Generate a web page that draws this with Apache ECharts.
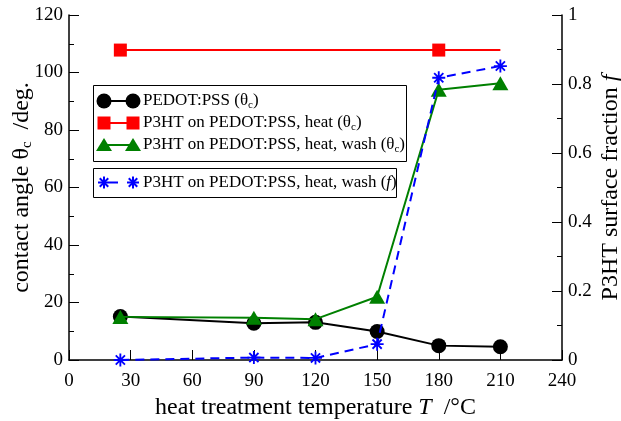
<!DOCTYPE html>
<html><head><meta charset="utf-8">
<script src="https://cdn.jsdelivr.net/npm/echarts@6/dist/echarts.min.js"></script>
<style>html,body{margin:0;padding:0;background:#fff}#c{width:621px;height:421px}</style>
</head><body><div id="c"></div>
<script>
const xTicks = [0, 30, 60, 90, 120, 150, 180, 210, 240];
const temps = [25, 90, 120, 150, 180, 210];
const pedotAngle = [15.1, 12.8, 13.1, 9.9, 5.0, 4.6];
const heatTemps = [25, 180, 210];
const heatAngle = [107.8, 107.8, 107.8];
const heatMarkerShown = [true, true, false];
const washAngle = [15.0, 14.7, 14.2, 22.0, 94.0, 96.3];
const washFraction = [0.0, 0.007, 0.006, 0.046, 0.818, 0.852];
const legendNames = [
  'PEDOT:PSS ({g|θ}{sub|c})',
  'P3HT on PEDOT:PSS, heat ({g|θ}{sub|c})',
  'P3HT on PEDOT:PSS, heat, wash ({g|θ}{sub|c})',
  'P3HT on PEDOT:PSS, heat, wash ({i|f})'
];

const FONT = '"Liberation Serif", "DejaVu Serif", serif';
const starPath = 'path://M-1,-7L1,-7L1,7L-1,7Z M-7,-1L7,-1L7,1L-7,1Z M-5.66,-4.24L-4.24,-5.66L5.66,4.24L4.24,5.66Z M4.24,-5.66L5.66,-4.24L-4.24,5.66L-5.66,4.24Z';

const chart = echarts.init(document.getElementById('c'), null, {renderer: 'canvas'});
const TF = 24;
const axisCommon = {
  axisLine: {show: true, onZero: false, lineStyle: {color: '#000', width: 1.5}},
  axisTick: {show: true, inside: true, length: 10, lineStyle: {color: '#000', width: 1}},
  splitLine: {show: false},
  axisLabel: {color: '#000', fontFamily: FONT, fontSize: 19},
  nameTextStyle: {color: '#000', fontFamily: FONT, fontSize: TF},
  nameMoveOverlap: false
};
const rich = {
  sub: {fontFamily: FONT, fontSize: 15, color: '#000', padding: [12, 0, 0, 0]},
  i: {fontFamily: FONT, fontSize: TF, fontStyle: 'italic', color: '#000'},
  g: {fontFamily: FONT, fontSize: TF, color: '#000'}
};

function starLines(cx, cy, r, color) {
  const out = [];
  for (let k = 0; k < 4; k++) {
    const a = k * Math.PI / 4;
    out.push({type: 'line', shape: {x1: cx - r * Math.cos(a), y1: cy - r * Math.sin(a), x2: cx + r * Math.cos(a), y2: cy + r * Math.sin(a)}, style: {stroke: color, lineWidth: 2}});
  }
  return out;
}

function legendRow(y, i, kind) {
  let els = [];
  const x1 = 104, x2 = 133;
  if (kind === 'circle') {
    els.push({type: 'line', shape: {x1, y1: y, x2, y2: y}, style: {stroke: '#000', lineWidth: 2}});
    els.push({type: 'circle', shape: {cx: x1, cy: y, r: 7.5}, style: {fill: '#000'}});
    els.push({type: 'circle', shape: {cx: x2, cy: y, r: 7.5}, style: {fill: '#000'}});
  } else if (kind === 'square') {
    els.push({type: 'line', shape: {x1, y1: y, x2, y2: y}, style: {stroke: '#f00', lineWidth: 2}});
    els.push({type: 'rect', shape: {x: x1 - 6.5, y: y - 6.5, width: 13, height: 13}, style: {fill: '#f00'}});
    els.push({type: 'rect', shape: {x: x2 - 6.5, y: y - 6.5, width: 13, height: 13}, style: {fill: '#f00'}});
  } else if (kind === 'tri') {
    els.push({type: 'line', shape: {x1, y1: y, x2, y2: y}, style: {stroke: '#008000', lineWidth: 2}});
    [x1, x2].forEach(cx => els.push({type: 'polygon', shape: {points: [[cx, y - 7], [cx + 8, y + 6], [cx - 8, y + 6]]}, style: {fill: '#008000'}}));
  } else {
    els.push({type: 'line', shape: {x1: x1 + 6, y1: y, x2: x1 + 14, y2: y}, style: {stroke: '#00f', lineWidth: 2}});
    els = els.concat(starLines(x1, y, 6, '#00f'), starLines(x2, y, 6, '#00f'));
  }
  els.push({type: 'text', x: 143, y: y, style: {text: legendNames[i], rich: {
      sub: {fontFamily: FONT, fontSize: 11, fill: '#000', padding: [9, 0, 0, 0]},
      i: {fontFamily: FONT, fontSize: 17, fontStyle: 'italic', fill: '#000'},
      g: {fontFamily: FONT, fontSize: 17, fill: '#000'}
    }, font: '17px ' + FONT, fill: '#000', verticalAlign: 'middle'}});
  return els;
}

const graphics = [
  {type: 'rect', shape: {x: 93.5, y: 85.5, width: 313, height: 76}, style: {fill: '#fff', stroke: '#000', lineWidth: 1}, z: 10},
  {type: 'rect', shape: {x: 93.5, y: 168.5, width: 303, height: 29}, style: {fill: '#fff', stroke: '#000', lineWidth: 1}, z: 10}
];
let legendEls = [].concat(legendRow(101, 0, 'circle'), legendRow(123, 1, 'square'), legendRow(145, 2, 'tri'), legendRow(182.5, 3, 'star'));
legendEls.forEach(e => e.z = 11);

chart.setOption({
  animation: false,
  backgroundColor: '#fff',
  grid: {left: 69, right: 59, top: 15, bottom: 61, containLabel: false, outerBoundsMode: 'none'},
  xAxis: Object.assign({}, axisCommon, {
    type: 'value', min: xTicks[0], max: xTicks[xTicks.length - 1], interval: 30,
    axisLabel: Object.assign({}, axisCommon.axisLabel, {margin: 12, showMinLabel: true, showMaxLabel: true}),
    name: 'heat treatment temperature {i|T}  /°C', nameLocation: 'middle', nameGap: 36,
    nameTextStyle: Object.assign({}, axisCommon.nameTextStyle, {rich})
  }),
  yAxis: [
    Object.assign({}, axisCommon, {
      type: 'value', min: 0, max: 120, interval: 20, position: 'left',
      minorTick: {show: true, splitNumber: 2, length: 5, lineStyle: {color: '#000'}},
      axisLabel: Object.assign({}, axisCommon.axisLabel, {margin: 6}),
      name: 'contact angle {g|θ}{sub|c}  /deg.', nameLocation: 'middle', nameGap: 34, nameRotate: 90,
      nameTextStyle: Object.assign({}, axisCommon.nameTextStyle, {rich})
    }),
    Object.assign({}, axisCommon, {
      type: 'value', min: 0, max: 1, interval: 0.2, position: 'right',
      minorTick: {show: true, splitNumber: 2, length: 5, lineStyle: {color: '#000'}},
      axisLabel: Object.assign({}, axisCommon.axisLabel, {margin: 6, formatter: v => String(+v.toFixed(1))}),
      name: 'P3HT surface fraction {i|f}', nameLocation: 'middle', nameGap: 37, nameRotate: 90,
      nameTextStyle: Object.assign({}, axisCommon.nameTextStyle, {rich})
    })
  ],
  graphic: graphics.concat(legendEls),
  series: [
    {type: 'line', name: 'pedot', yAxisIndex: 0, data: temps.map((t, i) => [t, pedotAngle[i]]),
      symbol: 'circle', symbolSize: 15, itemStyle: {color: '#000'}, lineStyle: {color: '#000', width: 2}, z: 2},
    {type: 'line', name: 'heat', yAxisIndex: 0, data: heatTemps.map((t, i) => ({value: [t, heatAngle[i]], symbolSize: heatMarkerShown[i] ? 13 : 0})),
      symbol: 'rect', itemStyle: {color: '#f00'}, lineStyle: {color: '#f00', width: 2}, z: 3},
    {type: 'line', name: 'wash', yAxisIndex: 0, data: temps.map((t, i) => [t, washAngle[i]]),
      symbol: 'triangle', symbolSize: [16, 14], itemStyle: {color: '#008000'}, lineStyle: {color: '#008000', width: 2}, z: 4},
    {type: 'line', name: 'frac', yAxisIndex: 1, data: temps.map((t, i) => [t, washFraction[i]]),
      symbol: starPath, symbolSize: 13, itemStyle: {color: '#00f'}, lineStyle: {color: '#00f', width: 2, type: [9, 6]}, z: 5}
  ]
});
</script></body></html>
